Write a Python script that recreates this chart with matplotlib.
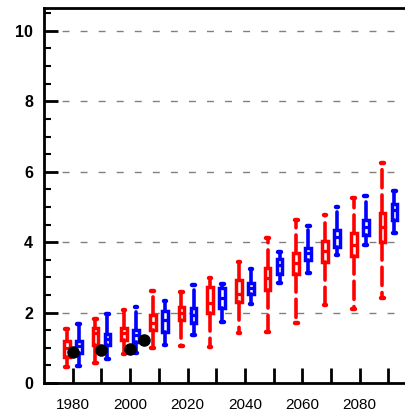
import matplotlib
matplotlib.use("Agg")
import matplotlib.pyplot as plt

plt.rcParams['font.family'] = ['Liberation Sans', 'DejaVu Sans']

years = [1980, 1990, 2000, 2010, 2020, 2030, 2040, 2050, 2060, 2070, 2080, 2090]

# red series: whisker low, q1, median, q3, whisker high
red_low  = [0.46, 0.58, 0.82, 0.99, 1.05, 1.03, 1.43, 1.46, 1.71, 2.22, 2.10, 2.42]
red_q1   = [0.73, 1.08, 1.22, 1.51, 1.79, 1.98, 2.31, 2.64, 3.09, 3.45, 3.62, 4.00]
red_med  = [0.98, 1.41, 1.41, 1.70, 1.98, 2.26, 2.53, 2.97, 3.40, 3.75, 3.92, 4.44]
red_q3   = [1.19, 1.55, 1.57, 1.93, 2.15, 2.74, 2.93, 3.28, 3.68, 4.04, 4.25, 4.84]
red_high = [1.53, 1.82, 2.07, 2.62, 2.59, 2.97, 3.43, 4.11, 4.63, 4.77, 5.25, 6.24]

# blue series
blue_low  = [0.48, 0.67, 0.86, 1.08, 1.36, 1.72, 2.24, 2.85, 3.13, 3.64, 3.92, 4.27]
blue_q1   = [0.86, 1.08, 1.17, 1.46, 1.70, 2.12, 2.53, 3.09, 3.49, 3.87, 4.20, 4.63]
blue_med  = [1.06, 1.24, 1.36, 1.79, 1.93, 2.41, 2.69, 3.35, 3.68, 4.14, 4.44, 4.91]
blue_q3   = [1.19, 1.39, 1.51, 2.05, 2.12, 2.69, 2.85, 3.51, 3.84, 4.35, 4.63, 5.08]
blue_high = [1.67, 1.95, 2.15, 2.33, 2.78, 2.81, 3.24, 3.71, 4.46, 4.99, 5.32, 5.44]

# observations (black dots)
obs_years = [1980, 1990, 2000, 2005]
obs_vals  = [0.89, 0.94, 0.96, 1.22]

xtick_labels = [1980, 2000, 2020, 2040, 2060, 2080]

fig = plt.figure(figsize=(4.06, 4.16), dpi=100)
ax = fig.add_axes([44/406, 33/416, (417.1-44)/406, 375/416])

def stats(low, q1, med, q3, high):
    return [dict(whislo=a, q1=b, med=c, q3=d, whishi=e, fliers=[])
            for a, b, c, d, e in zip(low, q1, med, q3, high)]

def draw(st, positions, color):
    ax.bxp(st, positions=positions, widths=2.0, capwidths=0.9,
           showfliers=False, patch_artist=True, manage_ticks=False,
           boxprops=dict(facecolor='white', edgecolor=color, linewidth=2.5),
           medianprops=dict(color=color, linewidth=2.3),
           whiskerprops=dict(color=color, linewidth=2.6, linestyle=(0, (5, 2)),
                             dash_capstyle='round'),
           capprops=dict(color=color, linewidth=3.2, solid_capstyle='round'),
           zorder=3)

draw(stats(red_low, red_q1, red_med, red_q3, red_high),
     [y - 2.1 for y in years], '#ff0000')
draw(stats(blue_low, blue_q1, blue_med, blue_q3, blue_high),
     [y + 2.1 for y in years], '#0000ff')

ax.plot(obs_years, obs_vals, 'o', color='black', markersize=8, zorder=5)

ax.set_xlim(1970, 2100)
ax.set_ylim(0, 10.65)

ax.set_yticks([0, 2, 4, 6, 8, 10])
ax.set_yticks([v * 0.5 for v in range(0, 22)], minor=True)
ax.set_xticks(years)
ax.set_xticklabels([str(y) if y in xtick_labels else '' for y in years])

for y in [2, 4, 6, 8, 10]:
    ax.axhline(y, color='#808080', linewidth=1.0, linestyle=(0, (5, 8)), zorder=1)

for s in ax.spines.values():
    s.set_linewidth(2.0)

ax.tick_params(axis='y', which='major', direction='in', length=10, width=2.0,
               pad=8, labelsize=11.5)
ax.tick_params(axis='y', which='minor', direction='in', length=5, width=1.5)
ax.tick_params(axis='x', which='major', direction='in', length=11, width=2.0,
               pad=11, labelsize=11)
for lab in ax.get_yticklabels():
    lab.set_fontweight('bold')

fig.savefig('out.png', dpi=100)
